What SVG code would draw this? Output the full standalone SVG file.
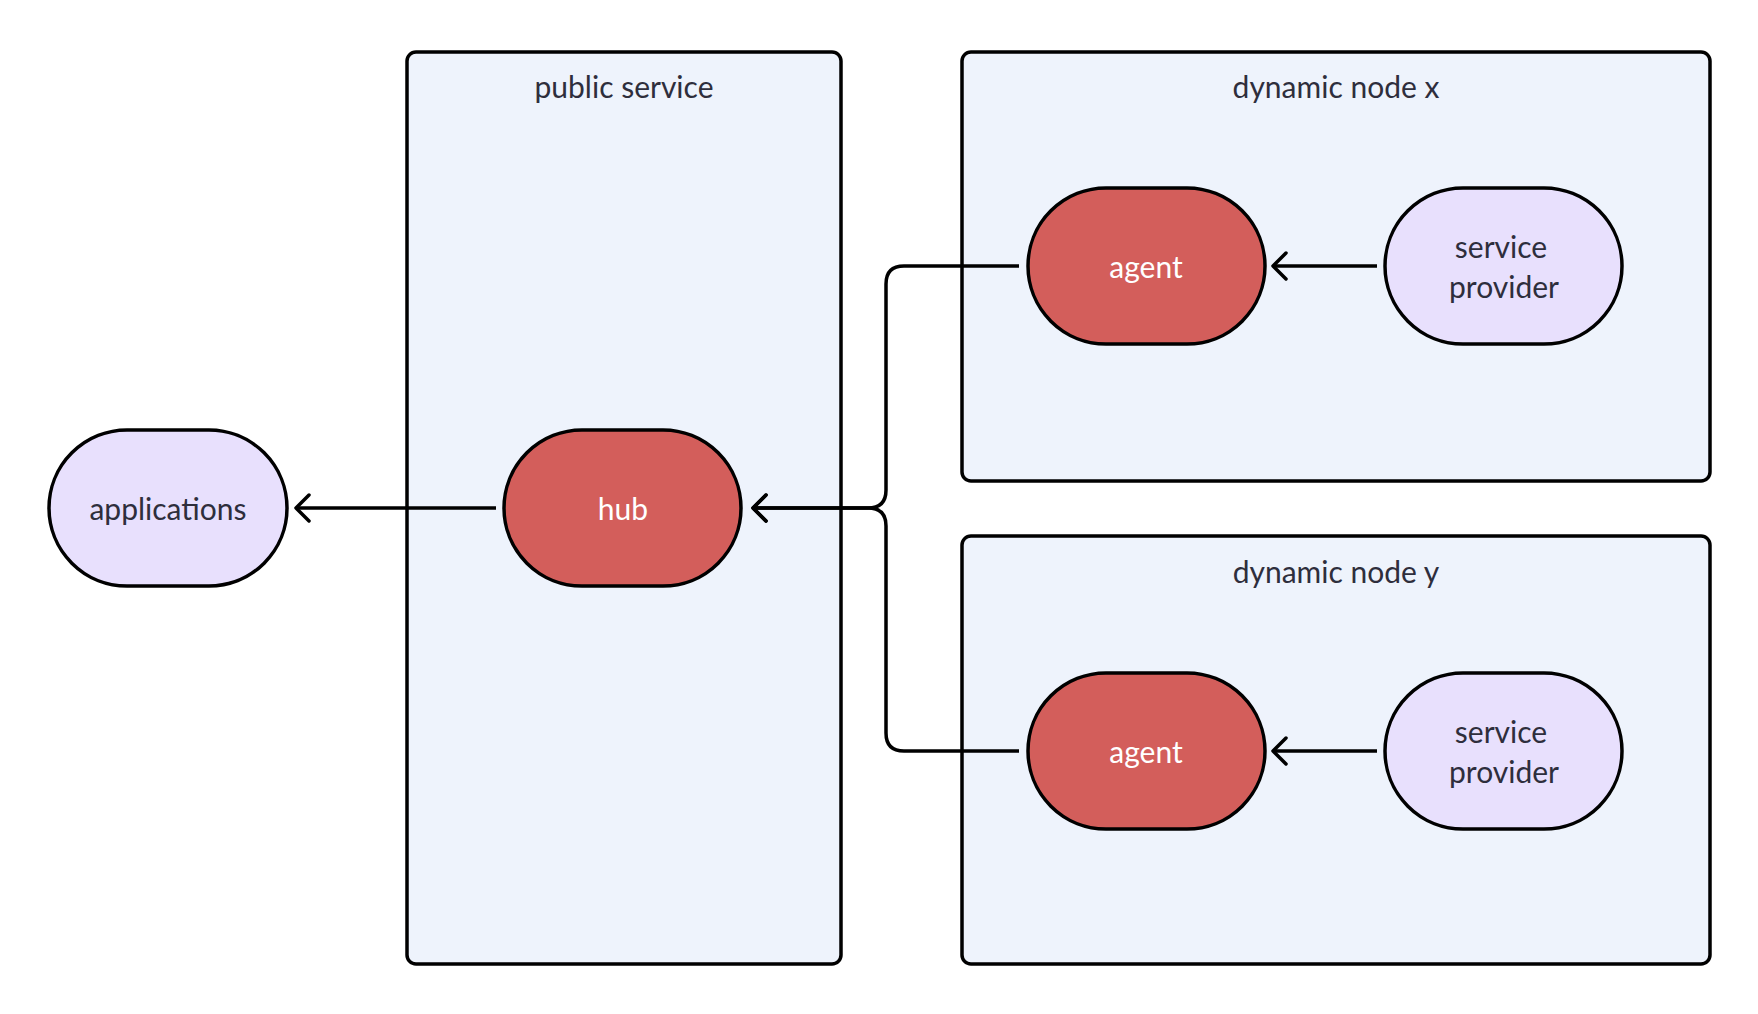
<svg xmlns="http://www.w3.org/2000/svg" width="1758" height="1014" viewBox="0 0 1758 1014">
<style>
.box{fill:#EEF3FC;stroke:#000;stroke-width:3.5}
.red{fill:#D35E5B;stroke:#000;stroke-width:3.5}
.pur{fill:#E8E0FD;stroke:#000;stroke-width:3.5}
.t{font-family:Lato,"Noto Sans",sans-serif;font-size:30px;text-anchor:middle;fill:#2E2E3C}
.w{fill:#FFFFFF}
.edge{fill:none;stroke:#000;stroke-width:3.5}
</style>
<defs>
<marker id="arr" markerWidth="24" markerHeight="32" refX="18" refY="16" orient="auto" markerUnits="userSpaceOnUse">
<path d="M5,3 L18,16 L5,29" fill="none" stroke="#000" stroke-width="3.5" stroke-linecap="round" stroke-linejoin="round"/>
</marker>
</defs>
<rect width="1758" height="1014" fill="#fff"/>
<g id="public-service">
<rect class="box" x="407" y="52" width="434" height="912" rx="9"/>
<text class="t" x="624" y="98">public service</text>
</g>
<g id="dynamic-node-x">
<rect class="box" x="962" y="52" width="748" height="429" rx="9"/>
<text class="t" x="1336" y="98">dynamic node x</text>
</g>
<g id="dynamic-node-y">
<rect class="box" x="962" y="536" width="748" height="428" rx="9"/>
<text class="t" x="1336" y="583">dynamic node y</text>
</g>
<g id="connectors">
<path class="edge" d="M496,508 L296,508" marker-end="url(#arr)"/>
<path class="edge" d="M1019,266 L904,266 Q886,266 886,284 L886,490 Q886,508 868,508 L753,508" marker-end="url(#arr)"/>
<path class="edge" d="M1019,751 L904,751 Q886,751 886,733 L886,526 Q886,508 868,508 L753,508" marker-end="url(#arr)"/>
<path class="edge" d="M1377,266 L1273,266" marker-end="url(#arr)"/>
<path class="edge" d="M1377,751 L1273,751" marker-end="url(#arr)"/>
</g>
<g id="applications">
<rect class="pur" x="49" y="430" width="238" height="156" rx="78"/>
<text class="t" x="168" y="520">applications</text>
</g>
<g id="hub">
<rect class="red" x="504" y="430" width="237" height="156" rx="78"/>
<text class="t w" x="623" y="520">hub</text>
</g>
<g id="agent-x">
<rect class="red" x="1028" y="188" width="237" height="156" rx="78"/>
<text class="t w" x="1146" y="278">agent</text>
</g>
<g id="provider-x">
<rect class="pur" x="1385" y="188" width="237" height="156" rx="78"/>
<text class="t" x="1501" y="258">service</text>
<text class="t" x="1504" y="298">provider</text>
</g>
<g id="agent-y">
<rect class="red" x="1028" y="673" width="237" height="156" rx="78"/>
<text class="t w" x="1146" y="763">agent</text>
</g>
<g id="provider-y">
<rect class="pur" x="1385" y="673" width="237" height="156" rx="78"/>
<text class="t" x="1501" y="743">service</text>
<text class="t" x="1504" y="783">provider</text>
</g>
</svg>
